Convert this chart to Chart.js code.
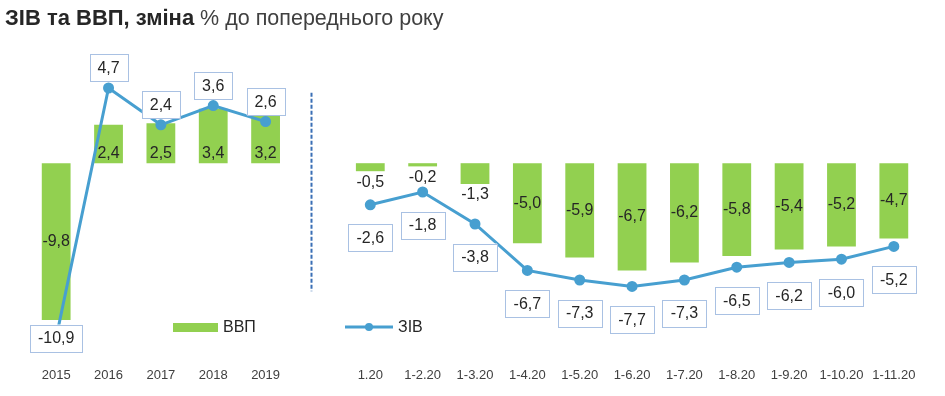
<!DOCTYPE html>
<html><head><meta charset="utf-8">
<script src="https://cdn.jsdelivr.net/npm/chart.js@4/dist/chart.umd.min.js"></script>
<style>
html,body{margin:0;padding:0;background:#fff;}
#wrap{position:relative;width:945px;height:396px;}
#title{position:absolute;left:5px;top:5px;font-family:"Liberation Sans",Arial,sans-serif;font-size:21.5px;color:#404040;white-space:nowrap;}
#title b{color:#262626;font-size:22px;}
canvas{position:absolute;left:0;top:0;}
.lg{position:absolute;font-family:"Liberation Sans",Arial,sans-serif;font-size:16px;color:#262626;}
</style></head>
<body><div id="wrap">
<canvas id="c" width="945" height="396"></canvas>
<div id="title"><b>ЗІВ та ВВП, зміна</b> % до попереднього року</div>
<div class="lg" style="left:173px;top:323px;width:45px;height:9px;background:#92d050;"></div>
<div class="lg" style="left:223px;top:318px;">ВВП</div>
<svg class="lg" style="left:345px;top:321px;" width="50" height="12"><line x1="0" y1="6" x2="48" y2="6" stroke="#479fd0" stroke-width="3"/><circle cx="24" cy="6" r="4" fill="#479fd0"/></svg>
<div class="lg" style="left:398px;top:318px;">ЗІВ</div>
</div>
<script>
const categories = ['2015','2016','2017','2018','2019','','1.20','1-2.20','1-3.20','1-4.20','1-5.20','1-6.20','1-7.20','1-8.20','1-9.20','1-10.20','1-11.20'];
const gdp = [-9.8, 2.4, 2.5, 3.4, 3.2, null, -0.5, -0.2, -1.3, -5.0, -5.9, -6.7, -6.2, -5.8, -5.4, -5.2, -4.7];
const ziv = [-10.9, 4.7, 2.4, 3.6, 2.6, null, -2.6, -1.8, -3.8, -6.7, -7.3, -7.7, -7.3, -6.5, -6.2, -6.0, -5.2];

const fmt = v => v.toFixed(1).replace('.', ',');
const FONT = '16px "Liberation Sans", Arial, sans-serif';

const labelsPlugin = {
  id: 'labels',
  afterDatasetsDraw(chart) {
    const ctx = chart.ctx;
    const area = chart.chartArea;
    ctx.save();
    ctx.font = FONT;
    ctx.textAlign = 'center';
    ctx.textBaseline = 'middle';
    // GDP labels
    const bm = chart.getDatasetMeta(1);
    bm.data.forEach((el, i) => {
      const v = gdp[i];
      if (v === null) return;
      let y;
      if (v > 0) y = el.base - 10;
      else if (v > -2) y = el.y + 11;
      else y = (el.y + el.base) / 2;
      ctx.fillStyle = '#262626';
      ctx.fillText(fmt(v), el.x, y);
    });
    // ZIV labels with boxes
    const lm = chart.getDatasetMeta(0);
    lm.data.forEach((el, i) => {
      const v = ziv[i];
      if (v === null) return;
      let y = v > 0 ? el.y - 20 : el.y + 33;
      y = Math.min(y, area.bottom - 14);
      const t = fmt(v);
      const w = Math.round(ctx.measureText(t).width + 16), h = 27;
      ctx.fillStyle = '#ffffff';
      ctx.fillRect(el.x - w / 2, y - h / 2, w, h);
      ctx.strokeStyle = '#a9c1e3';
      ctx.lineWidth = 1;
      ctx.strokeRect(Math.round(el.x - w / 2) + 0.5, Math.round(y - h / 2) + 0.5, w, h);
      ctx.fillStyle = '#262626';
      ctx.fillText(t, el.x, y + 1);
    });
    ctx.restore();
  }
};

const sepPlugin = {
  id: 'sep',
  beforeDatasetsDraw(chart) {
    const ctx = chart.ctx;
    const xs = chart.scales.x, ys = chart.scales.y;
    const x = Math.round(xs.getPixelForValue(5) - 7) + 0.5;
    ctx.save();
    ctx.strokeStyle = '#3a6fb5';
    ctx.lineWidth = 2;
    ctx.setLineDash([4, 2]);
    ctx.beginPath();
    ctx.moveTo(x, ys.getPixelForValue(4.4));
    ctx.lineTo(x, ys.getPixelForValue(-8.0));
    ctx.stroke();
    ctx.restore();
  }
};

new Chart(document.getElementById('c'), {
  data: {
    labels: categories,
    datasets: [
      { type: 'line', label: 'ЗІВ', data: ziv, borderColor: '#479fd0', backgroundColor: '#479fd0',
        borderWidth: 3, pointRadius: 4, pointHoverRadius: 4, spanGaps: false, tension: 0, order: 0 },
      { type: 'bar', label: 'ВВП', data: gdp, backgroundColor: '#92d050', barPercentage: 0.55,
        categoryPercentage: 1.0, order: 1 }
    ]
  },
  options: {
    responsive: false,
    animation: false,
    layout: { padding: { left: 30, right: 25, top: 48, bottom: 12 } },
    plugins: { legend: { display: false }, tooltip: { enabled: false }, title: { display: false } },
    scales: {
      x: {
        grid: { display: false, drawTicks: false },
        border: { display: false },
        ticks: { color: '#404040', font: { family: '"Liberation Sans", Arial, sans-serif', size: 13 }, padding: 16, maxRotation: 0, autoSkip: false },
        afterFit(scale) { scale.height = 32; }
      },
      y: { display: false, min: -11.8, max: 7.2 }
    }
  },
  plugins: [sepPlugin, labelsPlugin]
});
</script>
</body></html>
